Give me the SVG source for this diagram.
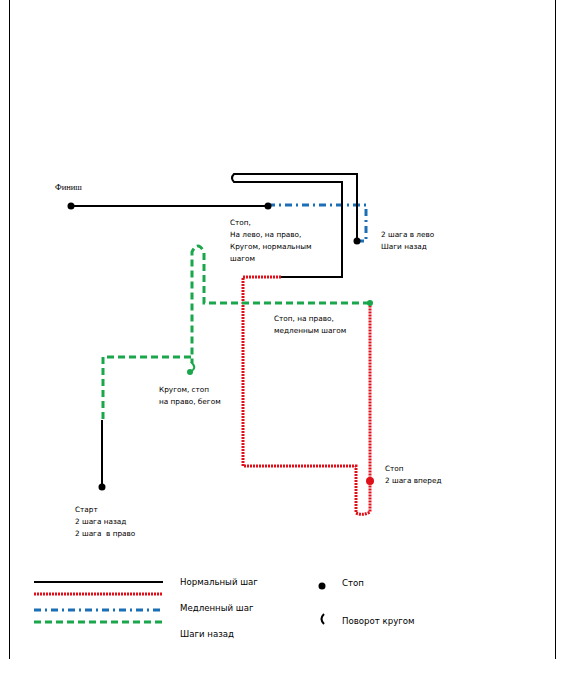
<svg xmlns="http://www.w3.org/2000/svg" width="564" height="684" viewBox="0 0 564 684">
<style>
.t{font-family:"DejaVu Sans","Liberation Sans",sans-serif;font-size:7.3px;fill:#000}
.lg{font-family:"DejaVu Sans","Liberation Sans",sans-serif;font-size:8.6px;fill:#000}
.n{fill:none;stroke:#000;stroke-width:2}
.r{fill:none;stroke:#e0101a;stroke-width:3;stroke-dasharray:2 1}
.b{fill:none;stroke:#1a6fb5;stroke-width:3;stroke-dasharray:7 4 2 4}
.g{fill:none;stroke:#1aa64a;stroke-width:3;stroke-dasharray:7 4}
.dot{fill:#000}
</style>
<rect width="564" height="684" fill="#fff"/>
<g id="page">
<line x1="9.5" y1="0" x2="9.5" y2="659" stroke="#000" stroke-width="1"/>
<line x1="555.5" y1="0" x2="555.5" y2="659" stroke="#000" stroke-width="1"/>
</g>
<g id="connectors">
<path class="n" d="M71 206 H268"/>
<path class="b" d="M268 205 H366 V241 H357"/>
<path class="n" d="M357 241 V174 H234 Q230 178 234 182 H342 V277 H280"/>
<path class="r" d="M281 277 H243 V466 H356 V513 Q363 516 370 512 V303"/>
<path class="g" d="M370 303 H204 V252 Q198 240 192 252 V363"/>
<path class="g" d="M191 357 H103 V420"/>
<path class="n" d="M102 420 V487"/>
<path fill="none" stroke="#1aa64a" stroke-width="2" d="M191 362 Q198 368 190 372"/>
</g>
<g id="finish"><circle class="dot" cx="71" cy="206" r="3.5"/><text x="55" y="190" style="font-family:'Liberation Serif',serif;font-size:8.5px">Финиш</text></g>
<g id="stop1"><circle class="dot" cx="268" cy="206" r="3.5"/>
<text class="t" x="230" y="225">Стоп,</text><text class="t" x="230" y="237">На лево, на право,</text><text class="t" x="230" y="249">Кругом, нормальным</text><text class="t" x="230" y="261">шагом</text></g>
<g id="stop2"><circle class="dot" cx="357" cy="241" r="3.5"/>
<text class="t" x="381" y="237">2 шага в лево</text><text class="t" x="381" y="249">Шаги назад</text></g>
<g id="stop3"><circle cx="370" cy="303" r="3" fill="#1aa64a"/>
<text class="t" x="274" y="321">Стоп, на право,</text><text class="t" x="274" y="333">медленным шагом</text></g>
<g id="stop4"><circle cx="190" cy="372" r="3" fill="#1aa64a"/>
<text class="t" x="159" y="392">Кругом, стоп</text><text class="t" x="159" y="404">на право, бегом</text></g>
<g id="start"><circle class="dot" cx="102" cy="487" r="3.5"/>
<text class="t" x="75" y="512">Старт</text><text class="t" x="75" y="524">2 шага назад</text><text class="t" x="75" y="536" xml:space="preserve">2 шага  в право</text></g>
<g id="stop5"><circle cx="370" cy="481" r="4" fill="#e0101a"/>
<text class="t" x="385" y="471">Стоп</text><text class="t" x="385" y="483">2 шага вперед</text></g>
<g id="legend">
<line class="n" x1="34" y1="582" x2="163" y2="582"/>
<line class="r" x1="34" y1="594" x2="163" y2="594"/>
<line class="b" x1="34" y1="610" x2="163" y2="610"/>
<line class="g" x1="34" y1="622" x2="163" y2="622"/>
<text class="lg" x="180" y="585">Нормальный шаг</text>
<text class="lg" x="180" y="611">Медленный шаг</text>
<text class="lg" x="180" y="637">Шаги назад</text>
<circle class="dot" cx="322" cy="586" r="3.5"/>
<text class="lg" x="342" y="586">Стоп</text>
<path d="M324 614 Q319 619 324 624" fill="none" stroke="#000" stroke-width="2"/>
<text class="lg" x="342" y="624">Поворот кругом</text>
</g>
</svg>
